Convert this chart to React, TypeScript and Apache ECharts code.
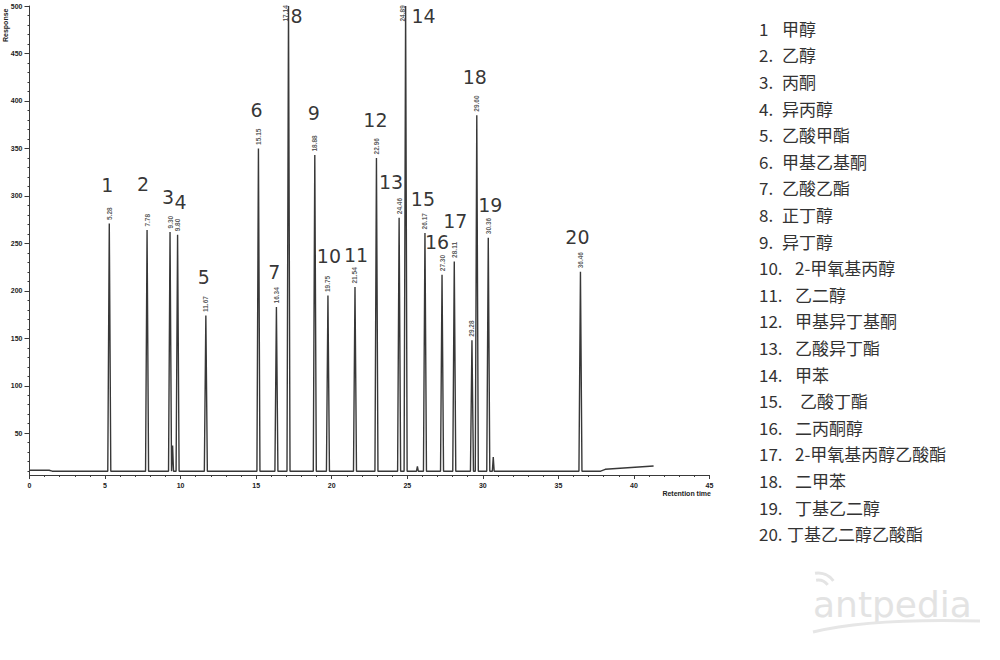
import { useEffect, useRef } from "react";
import * as echarts from "echarts";

// Retention times (min) and peak responses of the GC trace
const PEAK_TIMES = [5.28, 7.78, 9.3, 9.8, 11.67, 15.15, 16.34, 17.14, 18.88, 19.75, 21.54, 22.96, 24.46, 24.89, 26.17, 27.3, 28.11, 29.28, 29.6, 30.36, 36.46];
const PEAK_HEIGHTS = [271, 264, 262, 259, 174, 350, 183, 500, 343, 195, 204, 340, 277, 500, 261, 217, 231, 148, 385, 256, 220];
// Compound number assigned to each peak ("" = unassigned)
const PEAK_IDS = ["1", "2", "3", "4", "5", "6", "7", "8", "9", "10", "11", "12", "13", "14", "15", "16", "17", "", "18", "19", "20"];

// Small unlabelled bumps on the trace
const MINOR_TIMES = [9.47, 25.67, 30.69];
const MINOR_HEIGHTS = [37, 15, 25];

// Baseline knots
const BASE_TIMES = [0, 1.3, 1.5, 37.8, 38.1, 41.3];
const BASE_VALUES = [11, 11, 10, 10, 12, 15.5];
const PEAK_FOOT = 10;

// Axis ticks
const Y_TICKS = [50, 100, 150, 200, 250, 300, 350, 400, 450, 500];
const X_TICK_STEP = 5;

// Compound key
const KEY_NUMBERS = ["1", "2.", "3.", "4.", "5.", "6.", "7.", "8.", "9.", "10.", "11.", "12.", "13.", "14.", "15.", "16.", "17.", "18.", "19.", "20."];
const KEY_NAMES = ["甲醇", "乙醇", "丙酮", "异丙醇", "乙酸甲酯", "甲基乙基酮", "乙酸乙酯", "正丁醇", "异丁醇", "2-甲氧基丙醇", "乙二醇", "甲基异丁基酮", "乙酸异丁酯", "甲苯", "乙酸丁酯", "二丙酮醇", "2-甲氧基丙醇乙酸酯", "二甲苯", "丁基乙二醇", "丁基乙二醇乙酸酯"];

// Layout: pixel offsets of each compound number relative to its peak apex
const NUMBER_OFFSETS: [number, number][] = [
  [-2, -38], [-4, -46], [-2, -35], [3, -33], [-2, -39], [-2, -38], [-2, -35], [8, 10], [-1, -42], [1, -40],
  [1, -32], [-1, -38], [-8, -36], [18, 10], [-2, -34], [-5, -33], [1, -40], [-2, -38], [2, -33], [-3, -35],
];
const KEY_NAME_X = [782, 782, 782, 782, 782, 782, 782, 782, 782, 795, 795, 795, 795, 795, 800, 795, 795, 795, 795, 787];

const X_MAX = 45;
const Y_MIN = 6;
const Y_MAX = 500;
const PEAK_HALF_WIDTH = 0.1;
const MINOR_HALF_WIDTH = 0.06;

function buildTrace(): [number, number][] {
  const pts: [number, number][] = [];
  BASE_TIMES.forEach((t, i) => pts.push([t, BASE_VALUES[i]]));
  PEAK_TIMES.forEach((t, i) => {
    pts.push([t - PEAK_HALF_WIDTH, PEAK_FOOT], [t, PEAK_HEIGHTS[i]], [t + PEAK_HALF_WIDTH, PEAK_FOOT]);
  });
  MINOR_TIMES.forEach((t, i) => {
    pts.push([t - MINOR_HALF_WIDTH, PEAK_FOOT], [t, MINOR_HEIGHTS[i]], [t + MINOR_HALF_WIDTH, PEAK_FOOT]);
  });
  return pts.sort((a, b) => a[0] - b[0]);
}

const AXIS_COLOR = "#3a3a3a";
const AXIS_FONT = { fontFamily: "Liberation Sans, Arial", fontSize: 7, fontWeight: "bold" as const, color: "#222" };

function buildOption(): echarts.EChartsOption {
  const minorY: number[] = [];
  for (let v = 10; v < Y_MAX; v += 10) if (v % 50 !== 0) minorY.push(v);

  let n = 0;
  const numberData = PEAK_TIMES.map((t, i) => ({ t, h: PEAK_HEIGHTS[i], id: PEAK_IDS[i] }))
    .filter((p) => p.id !== "")
    .map((p) => {
      const off = NUMBER_OFFSETS[n++];
      return {
        value: [p.t, p.h],
        label: { formatter: p.id, offset: off },
      };
    });

  const keyTexts: any[] = [];
  KEY_NAMES.forEach((name, i) => {
    const y = 28.3 + i * 26.6;
    const font = { fontFamily: "Noto Sans CJK SC, Noto Sans", fontSize: 17, fill: "#333", verticalAlign: "middle" as const };
    keyTexts.push({ type: "text", x: 759, y, style: { text: KEY_NUMBERS[i], ...font } });
    keyTexts.push({ type: "text", x: KEY_NAME_X[i], y, style: { text: name, ...font } });
  });

  return {
    animation: false,
    backgroundColor: "#fff",
    grid: { left: 29.5, right: 290.5, top: 6, bottom: 185, containLabel: false, outerBoundsMode: "none" } as any,
    xAxis: {
      type: "value",
      min: 0,
      max: X_MAX,
      interval: X_TICK_STEP,
      axisLine: { lineStyle: { color: AXIS_COLOR, width: 1 } },
      axisTick: { length: 4, lineStyle: { color: AXIS_COLOR } },
      minorTick: { show: true, splitNumber: 5, length: 2, lineStyle: { color: AXIS_COLOR } },
      axisLabel: { ...AXIS_FONT, margin: 7 },
      splitLine: { show: false },
    },
    yAxis: [
      {
        type: "value",
        min: Y_MIN,
        max: Y_MAX,
        axisLine: { show: true, lineStyle: { color: AXIS_COLOR, width: 1 } },
        axisTick: { show: true, length: 5, customValues: Y_TICKS, lineStyle: { color: AXIS_COLOR } },
        axisLabel: { ...AXIS_FONT, margin: 7, customValues: Y_TICKS },
        splitLine: { show: false },
      } as any,
      {
        type: "value",
        min: Y_MIN,
        max: Y_MAX,
        position: "left",
        axisLine: { show: false },
        axisTick: { show: true, length: 2, customValues: minorY, lineStyle: { color: AXIS_COLOR } },
        axisLabel: { show: false },
        splitLine: { show: false },
      } as any,
    ],
    series: [
      {
        type: "line",
        data: buildTrace(),
        symbol: "none",
        silent: true,
        lineStyle: { color: "#383838", width: 1.4 },
      },
      {
        // retention-time annotations, rotated to read upwards
        type: "scatter",
        silent: true,
        symbolSize: 1,
        itemStyle: { color: "rgba(0,0,0,0)" },
        data: PEAK_TIMES.map((t, i) => ({
          value: [t, PEAK_HEIGHTS[i]],
          // off-scale peaks: print the time just inside the top edge (offset is in the rotated frame)
          label: PEAK_HEIGHTS[i] >= Y_MAX ? { offset: [-19, -3] } : undefined,
        })),
        label: {
          show: true,
          position: "top",
          distance: 3,
          rotate: 90,
          align: "left",
          verticalAlign: "middle",
          formatter: (p: any) => p.value[0].toFixed(2),
          fontFamily: "Liberation Sans, Arial",
          fontSize: 6.5,
          fontWeight: "bold",
          color: "#333",
        },
      },
      {
        // compound numbers
        type: "scatter",
        silent: true,
        symbolSize: 1,
        itemStyle: { color: "rgba(0,0,0,0)" },
        data: numberData,
        label: {
          show: true,
          position: "inside",
          align: "center",
          verticalAlign: "middle",
          fontFamily: "DejaVu Sans",
          fontSize: 19,
          color: "#000",
        },
      },
    ],
    graphic: [
      {
        type: "text",
        x: 5,
        y: 42,
        rotation: Math.PI / 2,
        style: { text: "Response", fontFamily: "Liberation Sans, Arial", fontSize: 7, fontWeight: "bold", fill: "#222", align: "left", verticalAlign: "middle" },
      },
      {
        type: "text",
        x: 711,
        y: 493,
        style: { text: "Retention time", fontFamily: "Liberation Sans, Arial", fontSize: 7, fontWeight: "bold", fill: "#222", align: "right", verticalAlign: "middle" },
      },
      ...keyTexts,
      // antpedia mark
      {
        type: "text",
        x: 813,
        y: 604,
        style: { text: "antpedia", fontFamily: "DejaVu Sans", fontSize: 36, fill: "#e3e3e3", verticalAlign: "middle" },
      },
      {
        type: "bezierCurve",
        shape: { x1: 813, y1: 632, cpx1: 870, cpy1: 618, x2: 980, y2: 621 },
        style: { stroke: "#e6e6e6", lineWidth: 3, fill: "none" },
      },
      {
        type: "arc",
        shape: { cx: 818, cy: 592, r: 12, startAngle: -Math.PI * 0.55, endAngle: -Math.PI * 0.2 },
        style: { stroke: "#e4e4e4", lineWidth: 3, fill: "none" },
      },
      {
        type: "arc",
        shape: { cx: 818, cy: 592, r: 19, startAngle: -Math.PI * 0.55, endAngle: -Math.PI * 0.2 },
        style: { stroke: "#e4e4e4", lineWidth: 3, fill: "none" },
      },
    ],
  } as any;
}

export default function App() {
  const ref = useRef<HTMLDivElement>(null);
  useEffect(() => {
    if (!ref.current) return;
    const chart = echarts.init(ref.current, null, { renderer: "svg" });
    chart.setOption(buildOption());
    return () => chart.dispose();
  }, []);
  return (
    <div
      ref={ref}
      style={{ position: "absolute", left: 0, top: 0, width: 1000, height: 660, background: "#fff" }}
    />
  );
}
